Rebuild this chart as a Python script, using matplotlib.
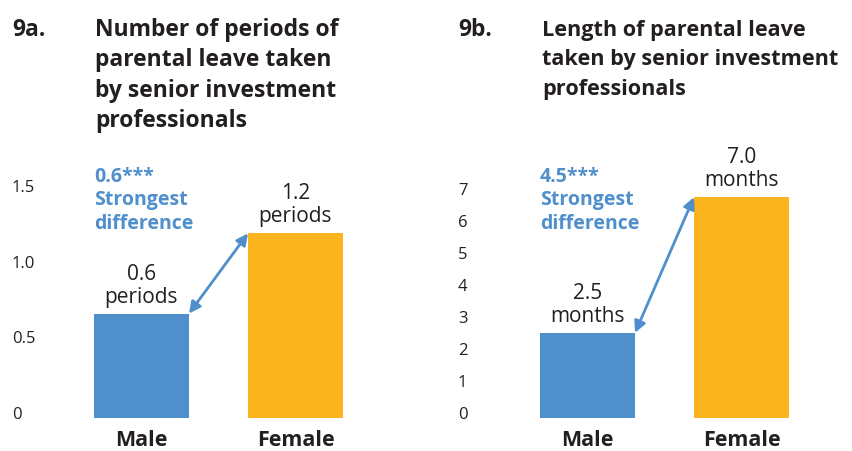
import matplotlib.pyplot as plt
from matplotlib import transforms as mtransforms

# Data
categories = ["Male", "Female"]
periods = [0.69, 1.22]          # bar heights, 9a
periods_labels = ["0.6\nperiods", "1.2\nperiods"]
months = [2.66, 6.9]            # bar heights, 9b
months_labels = ["2.5\nmonths", "7.0\nmonths"]
ticks_a = [0, 0.5, 1.0, 1.5]
tick_labels_a = ["0", "0.5", "1.0", "1.5"]
ticks_b = [0, 1, 2, 3, 4, 5, 6, 7]
diff_a = "0.6***\nStrongest\ndifference"
diff_b = "4.5***\nStrongest\ndifference"
title_a = "Number of periods of\nparental leave taken\nby senior investment\nprofessionals"
title_b = "Length of parental leave\ntaken by senior investment\nprofessionals"

BLUE = "#4F8FCC"
ORANGE = "#FBB41E"
DARK = "#231F20"

plt.rcParams['font.family'] = ['Open Sans', 'DejaVu Sans']

W, H = 853, 452
fig = plt.figure(figsize=(W / 100, H / 100), dpi=100)


def px_axes(x0, y_top, x1, y_bot):
    return fig.add_axes([x0 / W, 1 - y_bot / H, (x1 - x0) / W, (y_bot - y_top) / H])


def panel(ax, values, labels, ticks, tlabels, ymax, tick_x, diff_text, diff_y, xlim):
    ax.set_xlim(*xlim)
    ax.set_ylim(0, ymax)
    ax.bar([0, 1], values, width=0.617, color=[BLUE, ORANGE], zorder=2)
    for sp in ax.spines.values():
        sp.set_visible(False)
    ax.set_yticks([])
    ax.set_xticks([0, 1])
    ax.set_xticklabels(categories, fontsize=15.5, fontweight='bold', color=DARK)
    ax.tick_params(axis='x', length=0, pad=8)
    # tick labels, left aligned like the original
    trans = mtransforms.blended_transform_factory(fig.transFigure, ax.transData)
    trans = mtransforms.offset_copy(trans, fig, y=4, units='dots')
    for t, lab in zip(ticks, tlabels):
        ax.text(tick_x / W, t, lab, transform=trans, ha='left', va='center',
                fontsize=12, color=DARK, clip_on=False)
    # value labels
    for i, (v, lab) in enumerate(zip(values, labels)):
        ax.annotate(lab, (i, v), xytext=(0, 7), textcoords='offset pixels',
                    ha='center', va='bottom', fontsize=15, color=DARK,
                    linespacing=1.12, annotation_clip=False)
    # double arrow between bar corners
    ax.annotate("", xy=(1 - 0.3085, values[1]), xytext=(0.3085, values[0]),
                arrowprops=dict(arrowstyle='<|-|>', color=BLUE, lw=2,
                                mutation_scale=17, shrinkA=0, shrinkB=0))
    # "strongest difference" note, top placed in figure pixels
    note_trans = mtransforms.blended_transform_factory(ax.transData, fig.transFigure)
    ax.text(-0.3085, 1 - diff_y / H, diff_text, transform=note_trans, ha='left',
            va='top', fontsize=14, fontweight='bold', color=BLUE, linespacing=1.22)


ax1 = px_axes(60, 192, 420, 419)
panel(ax1, periods, periods_labels, ticks_a, tick_labels_a, 1.5, 12,
      diff_a, 167, ((60 - 141.5) / 154, (420 - 141.5) / 154))

ax2 = px_axes(500, 195, 852, 419)
panel(ax2, months, months_labels, ticks_b, [str(t) for t in ticks_b], 7, 458,
      diff_b, 167, ((500 - 587.5) / 154, (852 - 587.5) / 154))

# titles
for x, y, s, fs, ls in [(12, 18, "9a.", 16.5, 1.36), (95, 18, title_a, 16.5, 1.36),
                        (458, 18, "9b.", 16.5, 1.36), (542, 20, title_b, 15.6, 1.52)]:
    fig.text(x / W, 1 - y / H, s, ha='left', va='top', fontsize=fs,
             fontweight='bold', color=DARK, linespacing=ls)

fig.savefig("out.png", dpi=100)
